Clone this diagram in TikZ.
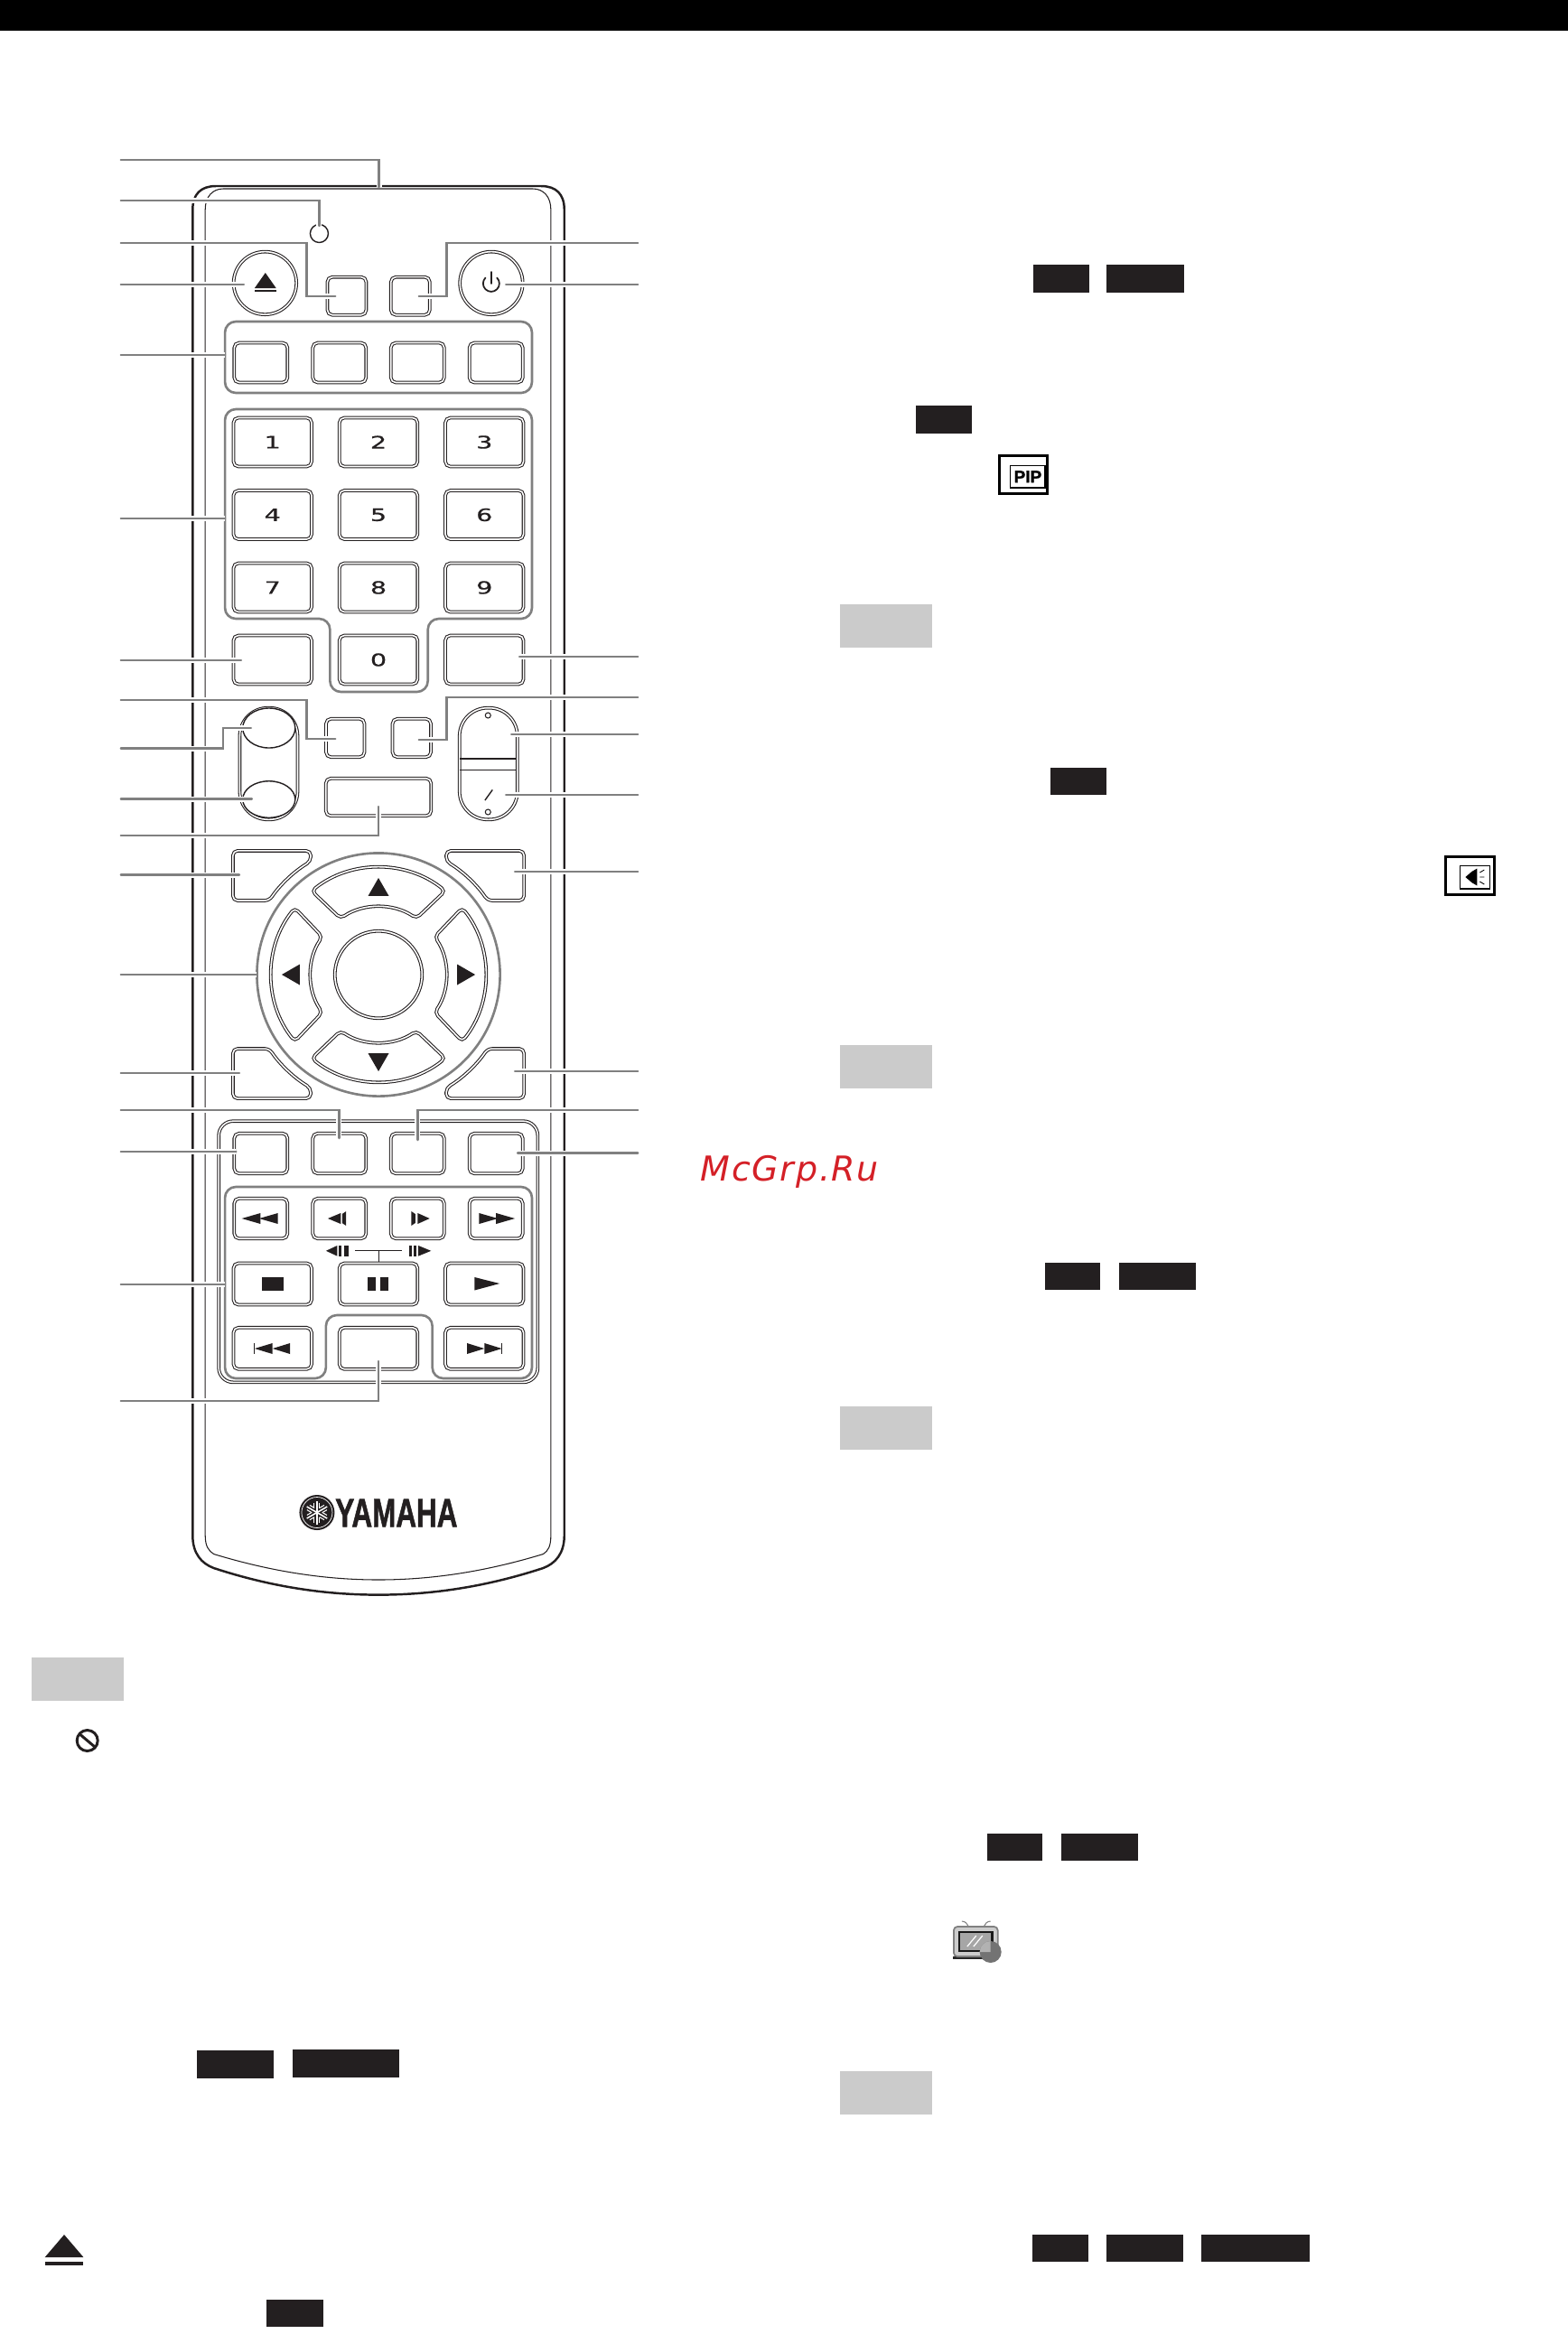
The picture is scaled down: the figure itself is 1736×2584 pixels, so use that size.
\documentclass[tikz,border=0pt]{standalone}
\usepackage{fontspec}
\usetikzlibrary{shapes.geometric}
\newfontfamily\keyfont[FakeBold=.6]{DejaVu Sans}
\newfontfamily\brandfont[BoldFeatures={FakeBold=1.5}]{Liberation Sans}
\newfontfamily\markfont[LetterSpace=4.5]{DejaVu Sans}
\definecolor{ink}{HTML}{231F20}
\definecolor{leadgray}{HTML}{808080}
\definecolor{boxgray}{HTML}{CBCBCB}
\definecolor{markred}{HTML}{D42027}
\tikzset{
	keyline/.style={draw=ink,line width=.3pt,double=white,double distance=.45pt},
	btn/.style 2 args={keyline,rectangle,rounded corners=.055cm,minimum width=#1,minimum height=#2,inner sep=0pt},
	digit/.style={font=\keyfont\fontsize{5.4}{5.4}\selectfont,text=ink},
	padkey/.style={keyline,rounded corners=.05cm},
	group/.style={draw=leadgray,line width=.75pt,rounded corners=.12cm},
	leader/.style={draw=leadgray,line width=.7pt,line cap=round,preaction={draw=white,line width=1.7pt}},
	shell/.style={draw=ink,line width=.7pt},
	thin line/.style={draw=ink,line width=.3pt},
}
\begin{document}
\begin{tikzpicture}[>=stealth,x=.01cm,y=-.01cm]
	\useasboundingbox (0,0) rectangle (1736,2584);
	\fill[black] (0,0) rectangle (1736,34);
	\begin{scope}[x=.00994cm,xshift=.006cm]
	% remote body
	\draw[shell,line join=round] (214,1700) -- (214,232) .. controls (214,215) and (223,206) .. (240,206) -- (602,206) .. controls (619,206) and (628,215) .. (628,232) -- (628,1700)
		.. controls (628,1720) and (618,1731) .. (604.5,1736) .. controls (540,1757) and (480,1765.6) .. (421,1765.6)
		.. controls (362,1765.6) and (302,1757) .. (237.5,1736) .. controls (224,1731) and (214,1720) .. (214,1700) -- cycle;
	\draw[thin line] (228,1700) -- (228,232) .. controls (228,218) and (236,209) .. (248,209) -- (593,209) .. controls (605,209) and (613,218) .. (613,232) -- (613,1700)
		.. controls (613,1712) and (610,1717) .. (604.5,1720.5) .. controls (540,1740) and (480,1749) .. (421,1749)
		.. controls (362,1749) and (302,1740) .. (237.5,1720.5) .. controls (232,1717) and (228,1712) .. (228,1700) -- cycle;
	% gray groups
	\draw[group] (250,356) rectangle (592,435);
	\draw[group] (250,453) -- (592,453) -- (592,685) -- (476,685) -- (476,766) -- (367,766) -- (367,685) -- (250,685) -- cycle;
	\draw[group] (250,1314) -- (592,1314) -- (592,1526) -- (481,1526) -- (481,1456) -- (362.5,1456) -- (362.5,1526) -- (250,1526) -- cycle;
	% top buttons
	\draw[thin line,line width=.4pt] (355,258.5) circle[radius=.1cm];
	\node[keyline,circle,minimum size=.695cm,inner sep=0pt] (eject) at (294.6,313.4) {};
	\node[keyline,circle,minimum size=.695cm,inner sep=0pt] (power) at (546.7,313.4) {};
	\fill[ink] (283,319) -- (295,302) -- (307,319) -- cycle;
	\fill[ink] (283,320.5) rectangle (307,322.5);
	\draw[ink,line width=.5pt,line cap=round] (553,307.5) arc[start angle=45,end angle=-225,radius=.09cm];
	\draw[ink,line width=.5pt,line cap=round] (546.7,301) -- (546.7,314);
	\node[btn={.43cm}{.42cm}] (keyA) at (385.7,327.7) {};
	\node[btn={.43cm}{.42cm}] (keyB) at (456.5,327.7) {};
	\foreach \n/\x in {a/290,b/377.5,c/464.5,d/552}
		\node[btn={.59cm}{.44cm}] (src\n) at (\x,401.5) {};
	% number keys
	\foreach \d/\x/\y in {1/303/489.5,2/421/489.5,3/539/489.5,4/303/570,5/421/570,6/539/570,7/303/650.5,8/421/650.5,9/539/650.5,0/421/730.5}
		\node[btn={.865cm}{.54cm},digit] (num\d) at (\x,\y) {\scalebox{1.5}[1]{\d}};
	\node[btn={.865cm}{.54cm}] (keyC) at (303,730.5) {};
	\node[btn={.865cm}{.54cm}] (keyD) at (539,730.5) {};
	% rockers and middle keys
	\node[btn={.64cm}{1.235cm},rounded corners=.31cm] (rockL) at (298.7,845.5) {};
	\node[btn={.64cm}{1.235cm},rounded corners=.31cm] (rockR) at (543.5,845.5) {};
	\node[thin line,line width=.4pt,fill=white,ellipse,minimum width=.58cm,minimum height=.44cm,inner sep=0pt] (rockLup) at (299,806) {};
	\node[thin line,line width=.4pt,fill=white,ellipse,minimum width=.58cm,minimum height=.405cm,inner sep=0pt] (rockLdn) at (299,885) {};
	\draw[thin line] (512,840) -- (575,840);
	\draw[thin line] (512,852.5) -- (575,852.5);
	\draw[thin line] (543,792) circle[radius=.03cm];
	\draw[thin line] (543,899) circle[radius=.03cm];
	\draw[thin line,line width=.4pt] (539.6,886) -- (548,874.4);
	\node[btn={.425cm}{.425cm}] (keyE) at (384,817) {};
	\node[btn={.425cm}{.425cm}] (keyF) at (458,817) {};
	\node[btn={1.165cm}{.415cm}] (keyG) at (421,882.5) {};
	% navigation ring
	\coordinate (nav) at (421,1079);
	\draw[group] (nav) circle[radius=1.345cm];
	\node[keyline,circle,minimum size=.965cm,inner sep=0pt] (enter) at (nav) {};
	\foreach \r in {0,90,180,270}
	{
	\begin{scope}[shift={(nav)},x=1cm,y=1cm,rotate=\r]
		\draw[padkey] (128.6:1.185cm) arc[start angle=128.6,end angle=51.4,radius=1.185cm] -- (56:.75cm) arc[start angle=56,end angle=124,radius=.75cm] -- cycle;
		\fill[ink] (0,1.07) -- (.115,.87) -- (-.115,.87) -- cycle;
	\end{scope}
	}
	\foreach \sx/\sy in {1/1,-1/1,1/-1,-1/-1}
	{
	\begin{scope}[shift={(nav)},x=1cm,y=1cm,xscale=\sx,yscale=\sy]
		\draw[padkey] (-1.61,.82) -- (-1.61,1.37) -- (-.75,1.37) -- (120.9:1.46cm) arc[start angle=120.9,end angle=145.83,radius=1.46cm] -- cycle;
	\end{scope}
	}
	% lower panel
	\node[btn={3.53cm}{2.89cm},rounded corners=.16cm] (panel) at (420.75,1385.75) {};
	\foreach \n/\x in {a/290,b/377.5,c/464.5,d/552}
	{
		\node[btn={.59cm}{.445cm}] (col\n) at (\x,1277) {};
		\node[btn={.59cm}{.445cm}] (trk\n) at (\x,1349) {};
	}
	\foreach \n/\x in {a/303,b/421,c/539}
	{
		\node[btn={.865cm}{.46cm}] (mid\n) at (\x,1421.5) {};
		\node[btn={.865cm}{.46cm}] (low\n) at (\x,1492.8) {};
	}
	% transport marks
	\fill[ink] (268.7,1349) -- (289.6,1343) -- (289.6,1355) -- cycle;
	\fill[ink] (288,1349) -- (309,1343) -- (309,1355) -- cycle;
	\fill[ink] (573,1349) -- (552,1343) -- (552,1355) -- cycle;
	\fill[ink] (554,1349) -- (533,1343) -- (533,1355) -- cycle;
	\fill[ink] (364.6,1349) -- (379,1343) -- (379,1355) -- cycle;
	\fill[ink] (380.5,1344) -- (385,1341) -- (385,1357) -- (380.5,1354) -- cycle;
	\fill[ink] (478,1349) -- (464.6,1343) -- (464.6,1355) -- cycle;
	\fill[ink] (462,1344) -- (457.5,1341) -- (457.5,1357) -- (462,1354) -- cycle;
	\fill[ink] (362.5,1384.8) -- (375,1379) -- (375,1390.6) -- cycle;
	\fill[ink] (377,1379) rectangle (380,1390.6);
	\fill[ink] (383,1379) rectangle (387.5,1390.6);
	\fill[ink] (479.6,1384.8) -- (465.4,1379) -- (465.4,1390.6) -- cycle;
	\fill[ink] (455,1379) rectangle (458,1390.6);
	\fill[ink] (460.4,1379) rectangle (463,1390.6);
	\draw[thin line] (395,1384.5) -- (446.7,1384.5);
	\draw[thin line] (421,1384.5) -- (421,1397);
	\fill[ink] (291,1414) rectangle (315,1428.5);
	\fill[ink] (408.7,1414) rectangle (418.3,1428.5);
	\fill[ink] (423.3,1414) rectangle (432.5,1428.5);
	\fill[ink] (556,1421) -- (528,1414) -- (528,1428.5) -- cycle;
	\fill[ink] (283,1493) -- (303,1487) -- (303,1499) -- cycle;
	\fill[ink] (303,1493) -- (322.5,1487) -- (322.5,1499) -- cycle;
	\draw[thin line] (283,1487) -- (283,1499);
	\fill[ink] (558.4,1493) -- (539,1487) -- (539,1499) -- cycle;
	\fill[ink] (539,1493) -- (519.6,1487) -- (519.6,1499) -- cycle;
	\draw[thin line] (558.7,1487) -- (558.7,1499);
	% logo
	\node[circle,fill=ink,minimum size=.39cm,inner sep=0pt] (logo) at (352.5,1674.5) {};
	\draw[white,line width=.2pt] (logo) circle[radius=.17cm];
	\foreach \r in {0,60,120}
	{
	\begin{scope}[shift={(logo)},x=1cm,y=1cm,rotate=\r]
		\draw[white,line width=.45pt] (0,-.13) -- (0,.13);
		\draw[white,line width=.3pt] (-.03,.05) -- (-.03,.11) (.03,.05) -- (.03,.11) (-.03,-.05) -- (-.03,-.11) (.03,-.05) -- (.03,-.11);
	\end{scope}
	}
	\node[font=\brandfont\bfseries\fontsize{12.6}{12.6}\selectfont,text=ink,inner sep=0pt] (brand) at (441,1675) {\scalebox{.71}[1]{YAMAHA}};
	% leaders, left side
	\foreach \n/\y in {a/177,b/222,c/269,d/315,e/393,f/574,g/731,h/775,i/828.5,j/884.6,k/925,l/968.5,m/1079,n/1188,o/1229,p/1275,q/1422,r/1551}
		\coordinate (l\n) at (134,\y);
	\foreach \n/\y in {a/269,b/315,c/727,d/772,e/813,f/880,g/965,h/1186,i/1229,j/1276.5}
		\coordinate (r\n) at (710,\y);
	\coordinate (ta) at (421.7,207);
	\coordinate (tb) at (355,250);
	\coordinate (tc) at (373,328);
	\coordinate (td) at (271,315);
	\coordinate (te) at (250,393);
	\coordinate (tf) at (250,574);
	\coordinate (tg) at (268,731);
	\coordinate (th) at (373,818);
	\coordinate (ti) at (279,806);
	\coordinate (tj) at (280,884.6);
	\coordinate (tk) at (421,893);
	\coordinate (tl) at (266,968.5);
	\coordinate (tm) at (285.5,1079);
	\coordinate (tn) at (266,1188);
	\coordinate (to) at (377,1260);
	\coordinate (tp) at (262.5,1275);
	\coordinate (tq) at (250,1422);
	\coordinate (tr) at (421,1507);
	\coordinate (ua) at (466,328);
	\coordinate (ub) at (563,315);
	\coordinate (uc) at (578,727);
	\coordinate (ud) at (466,819);
	\coordinate (ue) at (569,813);
	\coordinate (uf) at (563,880);
	\coordinate (ug) at (573,965);
	\coordinate (uh) at (573,1186);
	\coordinate (ui) at (464.6,1262);
	\coordinate (uj) at (576,1276.5);
	\draw[leader] (la) -| (ta);
	\draw[leader] (lb) -| (tb);
	\draw[leader] (lc) -- ++(207,0) |- (tc);
	\draw[leader] (ld) -- (td);
	\draw[leader] (le) -- (te);
	\draw[leader] (lf) -- (tf);
	\draw[leader] (lg) -- (tg);
	\draw[leader] (lh) -- ++(207,0) |- (th);
	\draw[leader] (li) -- ++(114,0) |- (ti);
	\draw[leader] (lj) -- (tj);
	\draw[leader] (lk) -| (tk);
	\draw[leader] (ll) -- (tl);
	\draw[leader] (lm) -- (tm);
	\draw[leader] (ln) -- (tn);
	\draw[leader] (lo) -| (to);
	\draw[leader] (lp) -- (tp);
	\draw[leader] (lq) -- (tq);
	\draw[leader] (lr) -| (tr);
	% leaders, right side
	\draw[leader] (ra) -- ++(-213,0) |- (ua);
	\draw[leader] (rb) -- (ub);
	\draw[leader] (rc) -- (uc);
	\draw[leader] (rd) -- ++(-213,0) |- (ud);
	\draw[leader] (re) -- (ue);
	\draw[leader] (rf) -- (uf);
	\draw[leader] (rg) -- (ug);
	\draw[leader] (rh) -- (uh);
	\draw[leader] (ri) -| (ui);
	\draw[leader] (rj) -- (uj);
	\end{scope}
	% left column boxes and symbols
	\begin{scope}[x=.00994cm]
	\fill[boxgray] (35,1835) rectangle (137.7,1883);
	\foreach \x/\y/\u/\v in {219/2270/305/2301,325.6/2269/445/2300,297/2546/360/2576}
		\fill[ink] (\x,\y) rectangle (\u,\v);
	\draw[ink,line width=.85pt] (97.3,1927) circle[radius=.115cm];
	\draw[ink,line width=.85pt] (89,1920) -- (105.6,1934);
	\fill[ink] (50,2499) -- (71.5,2474) -- (93,2499) -- cycle;
	\fill[ink] (50,2504) rectangle (93,2508);
	\end{scope}
	% right column boxes and symbols
	\begin{scope}[x=.00994cm,xshift=.054cm]
	\foreach \y/\v in {669/717,1157/1205,1557/1605,2293/2341}
		\fill[boxgray] (930,\y) rectangle (1033,\v);
	\foreach \x/\y/\u/\v in {1145.4/293/1207.6/324,1227.4/293/1314/324,1014.7/449/1076.8/480,1165/850/1227.4/880,1158.5/1398/1220.5/1428,1240.8/1398/1327/1428,1094/2030/1156/2060,1176.5/2030/1262.8/2060,1144.4/2474/1206.5/2504,1227/2474/1313/2504,1333/2474/1453/2504}
		\fill[ink] (\x,\y) rectangle (\u,\v);
	\draw[black,line width=.85pt] (1107.5,504.5) rectangle (1161.5,546.5);
	\draw[black,line width=.45pt] (1120,515.5) rectangle (1158.5,540);
	\node[font=\brandfont\fontsize{5.4}{5.4}\selectfont\bfseries,inner sep=0pt] (pip) at (1139.5,527.7) {PIP};
	\draw[black,line width=.85pt] (1605,948) rectangle (1659,990.5);
	\draw[black,line width=.45pt] (1621,958.5) rectangle (1654,984);
	\fill[black] (1627,971) -- (1634,965) -- (1640,961.5) -- (1640,980.5) -- (1634,977) -- cycle;
	\draw[black,line width=.25pt] (1643,966) -- (1648,963) (1643,971) -- (1648,971) (1643,976) -- (1648,979);
	% tv symbol
	\draw[gray,line width=.3pt] (1066,2127) .. controls (1070,2127) and (1072,2130) .. (1073,2132);
	\draw[gray,line width=.3pt] (1098,2127) .. controls (1094,2127) and (1092,2130) .. (1091,2132);
	\fill[black!85] (1056,2166) rectangle (1104,2169);
	\draw[black!50,fill=black!20,line width=.5pt,rounded corners=.04cm] (1057,2133) rectangle (1106,2166);
	\draw[black!90,fill=black!35,line width=.7pt] (1063,2139) rectangle (1100,2160);
	\draw[white,line width=.35pt] (1072,2155) -- (1082,2143) (1079,2155) -- (1089,2143);
	\fill[black!55] (1098,2161) circle[radius=.12cm];
	\fill[black!30] (1098,2161) -- (1098,2149) arc[start angle=90,end angle=180,radius=.12cm] -- cycle;
	\end{scope}
	% watermark
	\node[anchor=base west,font=\markfont\itshape\fontsize{10.8}{10.8}\selectfont,text=markred,inner sep=0pt] (mark) at (775,1307) {McGrp.Ru};
\end{tikzpicture}
\end{document}
